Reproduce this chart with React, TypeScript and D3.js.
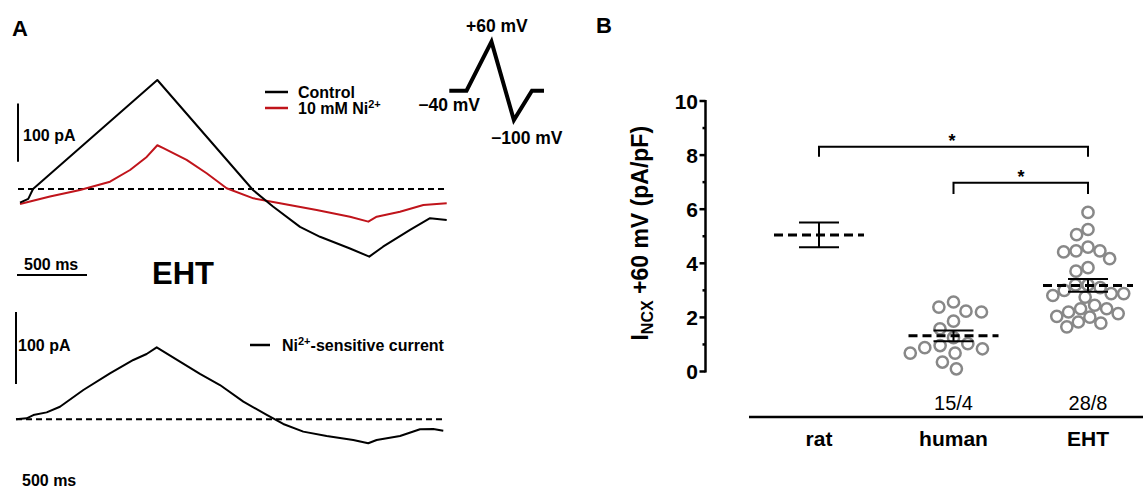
import React from 'react';
import * as d3 from 'd3';

// Panel A: current traces (time in ms, current in pA)
const controlT = [0, 59, 93, 981, 1664, 1807, 2000, 2143, 2357, 2495, 2593, 2786, 2929, 3048];
const controlI = [-23.5, -17, 0, 187, -1.7, -30, -65, -82, -102, -116, -99, -70, -50, -53];

const nickelT = [0, 214, 429, 643, 786, 905, 981, 1024, 1190, 1333, 1476, 1667, 1857, 2119, 2357, 2488, 2548, 2714, 2881, 3048];
const nickelI = [-25.7, -13, -1.7, 12.5, 32.6, 55, 75, 70, 50, 27, 1.2, -16, -24.5, -36, -47.5, -56, -47.5, -39, -27.5, -24.5];

const sensitiveT = [0, 76, 124, 219, 314, 481, 671, 838, 933, 1005, 1171, 1314, 1457, 1624, 1791, 1909, 2052, 2219, 2409, 2516, 2576, 2743, 2886, 2981, 3052];
const sensitiveI = [0, 1.4, 5.9, 9.6, 17.4, 40.7, 63.8, 82.4, 90.7, 100, 80, 63, 47.6, 24.6, 6, -6.5, -17.1, -23.2, -28.7, -33.3, -28.7, -23.2, -13.9, -13.5, -15.8];

// voltage protocol inset
const protocolT = [0, 100, 245, 375, 480, 550];
const protocolV = [-40, -40, 60, -100, -40, -40];

// Panel B: I_NCX at +60 mV (pA/pF)
const groups = ['rat', 'human', 'EHT'];
const groupN = ['', '15/4', '28/8'];
const groupMean = [5.05, 1.32, 3.18];
const groupSem = [0.46, 0.2, 0.235];
const humanValues = [2.57, 2.23, 1.86, 2.2, 2.38, 1.58, 1.25, 0.68, 1.03, 0.88, 0.84, 0.96, 0.68, 0.1, 0.35];
const ehtValues = [5.88, 5.25, 5.06, 4.6, 4.46, 4.46, 4.42, 4.17, 3.71, 3.84, 3.2, 3.2, 2.88, 2.75, 2.88, 2.81, 3.1,
  2.32, 2.2, 2.04, 1.83, 1.79, 2.01, 2.14, 2.32, 1.65, 3.0, 2.45];
const yTicks = [0, 2, 4, 6, 8, 10];
const yMinor = [1, 3, 5, 7, 9];

const FONT = '"Liberation Sans", Arial, sans-serif';

// simple greedy beeswarm: offsets in px
function swarm(values: number[], y: (v: number) => number, dia: number) {
  const order = values.map((_, i) => i).sort((a, b) => values[b] - values[a]);
  const placed: { x: number; y: number }[] = [];
  const out: number[] = new Array(values.length);
  for (const i of order) {
    const py = y(values[i]);
    const blocked: [number, number][] = [];
    for (const p of placed) {
      const dy = Math.abs(p.y - py);
      if (dy < dia) {
        const w = Math.sqrt(dia * dia - dy * dy);
        blocked.push([p.x - w, p.x + w]);
      }
    }
    const cands = [0];
    blocked.forEach(([a, b]) => cands.push(a, b));
    cands.sort((a, b) => Math.abs(a) - Math.abs(b));
    const x = cands.find(c => blocked.every(([a, b]) => c <= a + 1e-6 || c >= b - 1e-6)) ?? 0;
    placed.push({ x, y: py });
    out[i] = x;
  }
  return out;
}

const App = () => {
  // top traces
  const xTop = d3.scaleLinear().domain([0, 3050]).range([20, 447]);
  const yTop = d3.scaleLinear().domain([0, 100]).range([189, 130.7]);
  // bottom trace
  const xBot = d3.scaleLinear().domain([0, 3050]).range([16, 443]);
  const yBot = d3.scaleLinear().domain([0, 100]).range([419.3, 347.3]);
  // protocol
  const xV = d3.scaleLinear().domain([0, 550]).range([449.3, 544]);
  const yV = d3.scaleLinear().domain([-100, 60]).range([120, 41.7]);

  const lineTop = (t: number[], v: number[]) =>
    d3.line<number>().x((d, i) => xTop(t[i])).y(d => yTop(d))(v) || '';
  const lineBot = d3.line<number>().x((d, i) => xBot(sensitiveT[i])).y(d => yBot(d))(sensitiveI) || '';
  const lineV = d3.line<number>().x((d, i) => xV(protocolT[i])).y(d => yV(d))(protocolV) || '';

  // panel B scales
  const x = d3.scalePoint<string>().domain(groups).range([819, 1088]);
  const y = d3.scaleLinear().domain([0, 10]).range([371.5, 101]);
  const axisX = 705.5;

  const humanOff = swarm(humanValues, y, 15.5);
  const ehtOff = swarm(ehtValues, y, 12.5);

  const bracket = (g1: string, g2: string, level: number, drop: number) => {
    const x1 = x(g1)!, x2 = x(g2)!;
    const yl = y(level), yd = y(level - drop);
    return `M${x1},${yd}V${yl}H${x2}V${yd}`;
  };

  return (
    <svg width={1143} height={488} style={{ position: 'absolute', left: 0, top: 0, background: '#fff' }}
      fontFamily={FONT}>
      <rect width={1143} height={488} fill="#fff" />

      {/* ---------- Panel A ---------- */}
      <text x={12} y={36} fontSize={22} fontWeight="bold">A</text>

      {/* scale bars top */}
      <line x1={18} x2={18} y1={161.7} y2={161.7 - (yTop(0) - yTop(100))} stroke="#000" strokeWidth={2} />
      <text x={23} y={141} fontSize={16} fontWeight="bold">100 pA</text>
      <line x1={17} x2={17 + xTop(500) - xTop(0)} y1={275} y2={275} stroke="#000" strokeWidth={2} />
      <text x={24} y={270} fontSize={16} fontWeight="bold">500 ms</text>

      <line x1={18} x2={448} y1={yTop(0)} y2={yTop(0)} stroke="#000" strokeWidth={2} strokeDasharray="6,4" />
      <path d={lineTop(nickelT, nickelI)} fill="none" stroke="#c0141b" strokeWidth={2} strokeLinejoin="round" />
      <path d={lineTop(controlT, controlI)} fill="none" stroke="#000" strokeWidth={2} strokeLinejoin="round" />

      {/* legend top */}
      <line x1={265} x2={288} y1={92} y2={92} stroke="#000" strokeWidth={2.5} />
      <text x={298} y={98} fontSize={16} fontWeight="bold">Control</text>
      <line x1={265} x2={288} y1={108} y2={108} stroke="#c0141b" strokeWidth={2.5} />
      <text x={298} y={114} fontSize={16} fontWeight="bold">
        10 mM Ni<tspan dy={-6} fontSize={11}>2+</tspan>
      </text>

      {/* voltage protocol */}
      <path d={lineV} fill="none" stroke="#000" strokeWidth={4} strokeLinejoin="miter" />
      <text x={466} y={32} fontSize={17.5} fontWeight="bold">+60 mV</text>
      <text x={480} y={111} fontSize={17.5} fontWeight="bold" textAnchor="end">−40 mV</text>
      <text x={491} y={144} fontSize={17.5} fontWeight="bold">−100 mV</text>

      <text x={183} y={284} fontSize={31} fontWeight="bold" textAnchor="middle">EHT</text>

      {/* bottom trace */}
      <line x1={16} x2={16} y1={384} y2={384 - (yBot(0) - yBot(100))} stroke="#000" strokeWidth={2} />
      <text x={18} y={351} fontSize={16} fontWeight="bold">100 pA</text>
      <line x1={16} x2={444} y1={yBot(0)} y2={yBot(0)} stroke="#000" strokeWidth={2} strokeDasharray="6,4" />
      <path d={lineBot} fill="none" stroke="#000" strokeWidth={2} strokeLinejoin="round" />
      <line x1={250} x2={270} y1={345} y2={345} stroke="#000" strokeWidth={2.5} />
      <text x={282} y={351} fontSize={16} fontWeight="bold">
        Ni<tspan dy={-6} fontSize={11}>2+</tspan><tspan dy={6}>-sensitive current</tspan>
      </text>
      <text x={22} y={486} fontSize={16} fontWeight="bold">500 ms</text>

      {/* ---------- Panel B ---------- */}
      <text x={596} y={33} fontSize={22} fontWeight="bold">B</text>

      {/* y axis */}
      <line x1={axisX} x2={axisX} y1={y(0) + 1} y2={y(10) - 1} stroke="#000" strokeWidth={2.5} />
      {yTicks.map(t => (
        <g key={t}>
          <line x1={axisX - 6} x2={axisX} y1={y(t)} y2={y(t)} stroke="#000" strokeWidth={2.5} />
          <text x={698} y={y(t) + 7.5} fontSize={21} fontWeight="bold" textAnchor="end">{t}</text>
        </g>
      ))}
      {yMinor.map(t => (
        <line key={t} x1={axisX - 3} x2={axisX} y1={y(t)} y2={y(t)} stroke="#000" strokeWidth={2.5} />
      ))}
      <text transform={`translate(648,${y(5) - 3}) rotate(-90)`} fontSize={23} fontWeight="bold" textAnchor="middle">
        I<tspan dy={5} fontSize={16}>NCX</tspan><tspan dy={-5}> +60 mV (pA/pF)</tspan>
      </text>

      {/* significance brackets */}
      <path d={bracket('rat', 'EHT', 8.31, 0.37)} fill="none" stroke="#000" strokeWidth={2} />
      <text x={952} y={147} fontSize={18} fontWeight="bold" textAnchor="middle">*</text>
      <path d={bracket('human', 'EHT', 6.98, 0.42)} fill="none" stroke="#000" strokeWidth={2} />
      <text x={1021} y={183} fontSize={18} fontWeight="bold" textAnchor="middle">*</text>

      {/* points */}
      {humanValues.map((v, i) => (
        <circle key={'h' + i} cx={x('human')! + humanOff[i]} cy={y(v)} r={5.6} fill="none" stroke="#888" strokeWidth={2.5} />
      ))}
      {ehtValues.map((v, i) => (
        <circle key={'e' + i} cx={x('EHT')! + ehtOff[i]} cy={y(v)} r={5.6} fill="none" stroke="#888" strokeWidth={2.5} />
      ))}

      {/* mean +- SEM */}
      {groups.map((g, i) => {
        const cx = x(g)!;
        return (
          <g key={g}>
            <line x1={cx - 45} x2={cx + 45} y1={y(groupMean[i])} y2={y(groupMean[i])} stroke="#000" strokeWidth={3} strokeDasharray="9,5" />
            <line x1={cx} x2={cx} y1={y(groupMean[i] + groupSem[i])} y2={y(groupMean[i] - groupSem[i])} stroke="#000" strokeWidth={2} />
            <line x1={cx - 20} x2={cx + 20} y1={y(groupMean[i] + groupSem[i])} y2={y(groupMean[i] + groupSem[i])} stroke="#000" strokeWidth={2} />
            <line x1={cx - 20} x2={cx + 20} y1={y(groupMean[i] - groupSem[i])} y2={y(groupMean[i] - groupSem[i])} stroke="#000" strokeWidth={2} />
          </g>
        );
      })}

      {/* category axis */}
      <line x1={749} x2={1143} y1={417} y2={417} stroke="#000" strokeWidth={2.5} />
      {groups.map((g, i) => (
        <g key={g}>
          <text x={x(g)} y={410} fontSize={20} textAnchor="middle">{groupN[i]}</text>
          <text x={x(g)} y={446} fontSize={21} fontWeight="bold" textAnchor="middle">{g}</text>
        </g>
      ))}
    </svg>
  );
};

export default App;
